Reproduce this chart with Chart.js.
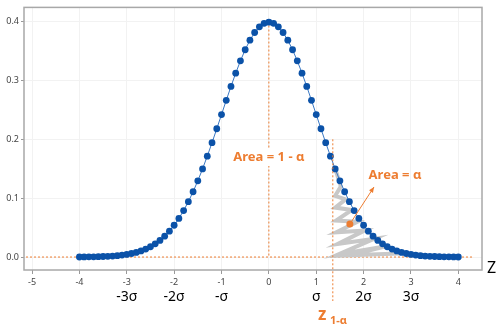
<!DOCTYPE html>
<html>
<head>
<meta charset="utf-8">
<script src="https://cdn.jsdelivr.net/npm/chart.js@4/dist/chart.umd.min.js"></script>
<style>
  body { margin: 0; background: #fff; }
  #wrap { width: 502px; height: 332px; position: relative; }
</style>
</head>
<body>
<div id="wrap"><canvas id="myChart"></canvas></div>
<script>
// standard normal curve at 0.1 steps
const zValues = [
  -4.0, -3.9, -3.8, -3.7, -3.6, -3.5, -3.4, -3.3, -3.2, -3.1,
  -3.0, -2.9, -2.8, -2.7, -2.6, -2.5, -2.4, -2.3, -2.2, -2.1,
  -2.0, -1.9, -1.8, -1.7, -1.6, -1.5, -1.4, -1.3, -1.2, -1.1,
  -1.0, -0.9, -0.8, -0.7, -0.6, -0.5, -0.4, -0.3, -0.2, -0.1,
  0.0, 0.1, 0.2, 0.3, 0.4, 0.5, 0.6, 0.7, 0.8, 0.9,
  1.0, 1.1, 1.2, 1.3, 1.4, 1.5, 1.6, 1.7, 1.8, 1.9,
  2.0, 2.1, 2.2, 2.3, 2.4, 2.5, 2.6, 2.7, 2.8, 2.9,
  3.0, 3.1, 3.2, 3.3, 3.4, 3.5, 3.6, 3.7, 3.8, 3.9, 4.0
];
const density = [
  0.0001, 0.0002, 0.0003, 0.0004, 0.0006, 0.0009, 0.0012, 0.0017, 0.0024, 0.0033,
  0.0044, 0.0060, 0.0079, 0.0104, 0.0136, 0.0175, 0.0224, 0.0283, 0.0355, 0.0440,
  0.0540, 0.0656, 0.0790, 0.0940, 0.1109, 0.1295, 0.1497, 0.1714, 0.1942, 0.2179,
  0.2420, 0.2661, 0.2897, 0.3123, 0.3332, 0.3521, 0.3683, 0.3814, 0.3910, 0.3970,
  0.3989, 0.3970, 0.3910, 0.3814, 0.3683, 0.3521, 0.3332, 0.3123, 0.2897, 0.2661,
  0.2420, 0.2179, 0.1942, 0.1714, 0.1497, 0.1295, 0.1109, 0.0940, 0.0790, 0.0656,
  0.0540, 0.0440, 0.0355, 0.0283, 0.0224, 0.0175, 0.0136, 0.0104, 0.0079, 0.0060,
  0.0044, 0.0033, 0.0024, 0.0017, 0.0012, 0.0009, 0.0006, 0.0004, 0.0003, 0.0002, 0.0001
];

// gray scribble that shades the upper tail
const tailX = [1.40, 1.52, 1.40, 1.62, 1.40, 1.75, 1.42, 1.87, 1.42, 2.02, 1.45, 2.22, 1.48, 2.45, 1.70, 2.75];
const tailY = [0.150, 0.120, 0.104, 0.098, 0.084, 0.080, 0.062, 0.060, 0.042, 0.045, 0.022, 0.031, 0.005, 0.018, 0.003, 0.006];

const xTicks = [-5, -4, -3, -2, -1, 0, 1, 2, 3, 4];
const sigmaPos = [-3, -2, -1, 1, 2, 3];
const sigmaLabels = ['-3σ', '-2σ', '-σ', 'σ', '2σ', '3σ'];
const zCritical = 1.35;
const alphaDot = [1.71, 0.056];
const arrowTip = [2.22, 0.119];

const orange = '#ED7D31';
const blue = '#0B52A8';

const overlay = {
  id: 'overlay',
  beforeDatasetsDraw(chart) {
    const { ctx, chartArea: a, scales: { x, y } } = chart;
    ctx.save();
    ctx.strokeStyle = orange;
    ctx.lineWidth = 1;
    ctx.setLineDash([2, 2]);
    const y0 = y.getPixelForValue(0);
    ctx.beginPath();
    ctx.moveTo(a.left + 2, y0); ctx.lineTo(a.right - 8, y0);
    const x0 = x.getPixelForValue(0);
    ctx.moveTo(x0, y.getPixelForValue(0.4)); ctx.lineTo(x0, y0);
    ctx.stroke();
    ctx.restore();
  },
  afterDatasetsDraw(chart) {
    const { ctx, chartArea: a, scales: { x, y } } = chart;
    ctx.save();

    // critical value line, runs below the axis
    const xz = x.getPixelForValue(zCritical);
    ctx.strokeStyle = orange;
    ctx.lineWidth = 1;
    ctx.setLineDash([2, 2]);
    ctx.beginPath();
    ctx.moveTo(xz, y.getPixelForValue(0.2));
    ctx.lineTo(xz, a.bottom + 31);
    ctx.stroke();
    ctx.setLineDash([]);

    // "Area = 1 - α" on a white patch
    ctx.font = 'bold 13px "Noto Sans"';
    ctx.textAlign = 'center';
    ctx.textBaseline = 'middle';
    const cx = x.getPixelForValue(0), cy = 157;
    const w = ctx.measureText('Area = 1 - α').width;
    ctx.fillStyle = '#fff';
    ctx.fillRect(cx - w / 2 - 3, cy - 9, w + 6, 18);
    ctx.fillStyle = orange;
    ctx.fillText('Area = 1 - α', cx, cy);

    ctx.fillText('Area = α', 395, 175);

    // dot + arrow
    const px = x.getPixelForValue(alphaDot[0]), py = y.getPixelForValue(alphaDot[1]);
    const tx = x.getPixelForValue(arrowTip[0]), ty = y.getPixelForValue(arrowTip[1]);
    ctx.strokeStyle = orange;
    ctx.lineWidth = 1;
    ctx.beginPath();
    ctx.moveTo(px, py); ctx.lineTo(tx, ty);
    ctx.stroke();
    const ang = Math.atan2(ty - py, tx - px);
    ctx.beginPath();
    ctx.moveTo(tx, ty);
    ctx.lineTo(tx - 6 * Math.cos(ang - 0.4), ty - 6 * Math.sin(ang - 0.4));
    ctx.lineTo(tx - 6 * Math.cos(ang + 0.4), ty - 6 * Math.sin(ang + 0.4));
    ctx.closePath();
    ctx.fill();
    ctx.beginPath();
    ctx.arc(px, py, 3.5, 0, Math.PI * 2);
    ctx.fill();

    // sigma labels under the ticks
    ctx.fillStyle = '#000';
    ctx.font = '14px "Noto Sans"';
    sigmaPos.forEach((v, i) => ctx.fillText(sigmaLabels[i], x.getPixelForValue(v), 297));

    // z_{1-α}
    ctx.fillStyle = orange;
    ctx.textAlign = 'left';
    ctx.font = 'bold 17px "Noto Sans"';
    ctx.fillText('z', 318, 315);
    ctx.font = 'bold 11px "Noto Sans"';
    ctx.fillText('1-α', 330, 321);

    // axis name
    ctx.fillStyle = '#000';
    ctx.font = '16px "Noto Sans"';
    ctx.fillText('Z', 487, 268);

    // frame
    ctx.strokeStyle = '#a8a8a8';
    ctx.lineWidth = 1.5;
    ctx.strokeRect(a.left, a.top, a.right - a.left, a.bottom - a.top);
    ctx.restore();
  }
};

const ctx = document.getElementById('myChart').getContext('2d');
const myChart = new Chart(ctx, {
  type: 'line',
  data: {
    datasets: [{
      label: 'density',
      data: zValues.map((z, i) => ({ x: z, y: density[i] })),
      borderColor: '#3A78C4',
      borderWidth: 1,
      pointRadius: 3.4,
      pointBackgroundColor: blue,
      pointBorderColor: blue,
      pointBorderWidth: 0,
      tension: 0,
      order: 1
    }, {
      label: 'tail',
      data: tailX.map((z, i) => ({ x: z, y: tailY[i] })),
      borderColor: '#C8C8C8',
      borderWidth: 4,
      pointRadius: 0,
      borderJoinStyle: 'miter',
      tension: 0,
      order: 2
    }]
  },
  options: {
    responsive: true,
    maintainAspectRatio: false,
    animation: false,
    layout: { padding: { top: 7, right: 20, left: 0, bottom: 0 } },
    plugins: { legend: { display: false }, tooltip: { enabled: false } },
    scales: {
      x: {
        type: 'linear',
        min: -5.17,
        max: 4.5,
        afterFit: s => { s.height = 62; },
        afterBuildTicks: s => { s.ticks = xTicks.map(v => ({ value: v })); },
        ticks: {
          callback: v => String(v),
          font: { size: 9, family: '"Noto Sans"' },
          color: '#444',
          padding: 3,
          maxRotation: 0
        },
        grid: { color: '#f2f2f2', tickColor: '#999', tickLength: 4 },
        border: { display: false }
      },
      y: {
        min: -0.022,
        max: 0.424,
        afterFit: s => { s.width = 24; },
        ticks: {
          stepSize: 0.1,
          includeBounds: false,
          callback: v => v.toFixed(1),
          font: { size: 9, family: '"Noto Sans"' },
          color: '#444',
          padding: 2
        },
        grid: { color: '#f2f2f2', tickColor: '#999', tickLength: 3 },
        border: { display: false }
      }
    }
  },
  plugins: [overlay]
});
</script>
</body>
</html>
